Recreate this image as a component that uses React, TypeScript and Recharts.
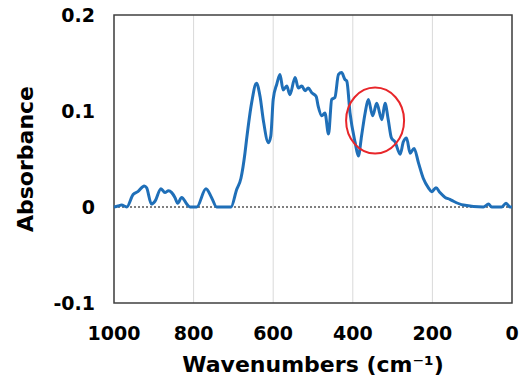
import React from 'react';
import {
  LineChart,
  Line,
  XAxis,
  YAxis,
  CartesianGrid,
  ReferenceLine,
  ReferenceArea,
  ReferenceDot,
} from 'recharts';

const wavenumbers = [
  1000, 990, 981, 968, 952, 940, 924, 918, 906, 897, 882, 872, 863, 855, 847, 840, 830, 817, 809, 792,
  769, 755, 742, 706, 692, 681, 671, 667, 654, 642, 633, 625, 612, 606, 600, 591, 583, 575, 566, 558,
  545, 537, 528, 520, 512, 503, 492, 487, 478, 470, 461, 453, 445, 436, 428, 420, 415, 407, 394, 386,
  378, 369, 361, 350, 340, 327, 319, 311, 303, 294, 281, 273, 265, 256, 246, 235, 223, 210, 202, 191,
  181, 168, 156, 147, 122, 72, 59, 51, 26, 15, 5, 0,
];

const absorbance = [
  0, 0.001, 0.002, 0, 0.013, 0.016, 0.022, 0.02, 0.003, 0.006, 0.019, 0.015, 0.017, 0.015, 0.01, 0.004, 0.01, 0.003, 0, 0,
  0.019, 0.01, 0, 0, 0.018, 0.03, 0.056, 0.07, 0.109, 0.129, 0.115, 0.091, 0.067, 0.074, 0.112, 0.128, 0.138, 0.122, 0.126, 0.117,
  0.135, 0.124, 0.126, 0.121, 0.124, 0.119, 0.115, 0.105, 0.095, 0.098, 0.076, 0.112, 0.114, 0.138, 0.14, 0.133, 0.131, 0.098, 0.067, 0.053,
  0.074, 0.098, 0.112, 0.095, 0.108, 0.091, 0.108, 0.091, 0.072, 0.068, 0.055, 0.068, 0.072, 0.056, 0.061, 0.046, 0.03, 0.02, 0.016, 0.02,
  0.015, 0.01, 0.008, 0.006, 0.002, 0, 0.003, 0, 0, 0.004, 0, 0,
];

const xTicks = [1000, 800, 600, 400, 200, 0];
const yTicks = [-0.1, 0, 0.1, 0.2];

const highlight = { x: 344, y: 0.09 };

const data = wavenumbers.map((w, i) => ({ w, a: absorbance[i] }));

const FONT = "'DejaVu Sans', Verdana, sans-serif";

const fmtY = (v: number) => (v === 0 ? '0' : String(v));

const Ellipse = (props: any) => (
  <ellipse cx={props.cx} cy={props.cy} rx={29} ry={33} fill="none" stroke="#e8262a" strokeWidth={2} />
);

export default function App() {
  return (
    <div style={{ position: 'absolute', left: 0, top: 0, background: '#fff' }}>
      <LineChart
        width={519}
        height={380}
        data={data}
        margin={{ top: 15, right: 7, left: 0, bottom: 0 }}
      >
        <CartesianGrid horizontal={false} stroke="#d9d9d9" strokeWidth={1} />
        <XAxis
          dataKey="w"
          type="number"
          domain={[0, 1000]}
          reversed
          ticks={xTicks}
          axisLine={false}
          tickLine={false}
          tickMargin={18}
          height={77}
          tick={{ fill: '#000', fontSize: 19, fontWeight: 'bold', fontFamily: FONT }}
          label={{
            value: 'Wavenumbers (cm⁻¹)',
            position: 'insideBottom',
            offset: 8,
            style: { fill: '#000', fontSize: 22, fontWeight: 'bold', fontFamily: FONT },
          }}
        />
        <YAxis
          type="number"
          domain={[-0.1, 0.2]}
          ticks={yTicks}
          tickFormatter={fmtY}
          axisLine={false}
          tickLine={false}
          tickMargin={13}
          width={114}
          tick={{ fill: '#000', fontSize: 19, fontWeight: 'bold', fontFamily: FONT }}
          label={{
            value: 'Absorbance',
            angle: -90,
            position: 'insideLeft',
            offset: 25,
            style: { fill: '#000', fontSize: 22, fontWeight: 'bold', fontFamily: FONT, textAnchor: 'middle' },
          }}
        />
        <ReferenceLine y={0} stroke="#000" strokeWidth={1} strokeDasharray="2 2" />
        <ReferenceArea x1={1000} x2={0} y1={-0.1} y2={0.2} fill="none" stroke="#404040" strokeWidth={1.5} />
        <Line
          type="monotone"
          dataKey="a"
          stroke="#1f6fb8"
          strokeWidth={3}
          dot={false}
          isAnimationActive={false}
        />
        <ReferenceDot x={highlight.x} y={highlight.y} shape={Ellipse} />
      </LineChart>
    </div>
  );
}
